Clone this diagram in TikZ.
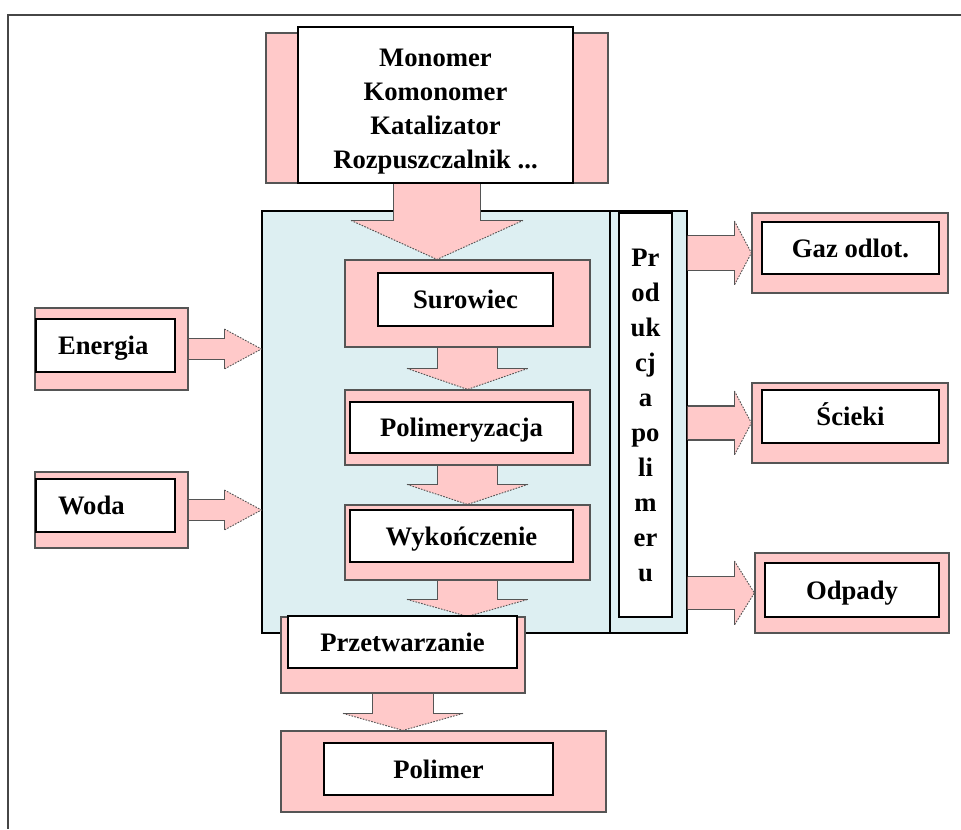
\documentclass[tikz,border=0pt]{standalone}
\usepackage{fontspec}
\setmainfont{Liberation Serif}
\usetikzlibrary{calc}
\pgfdeclarelayer{back}
\pgfdeclarelayer{mid}
\pgfsetlayers{back,mid,main}

\definecolor{boxpink}{RGB}{255,201,201}
\definecolor{procblue}{RGB}{221,239,242}
\definecolor{edgegray}{RGB}{85,85,85}
\definecolor{framegray}{RGB}{70,70,70}

\tikzset{
  pinkbox/.style={draw=edgegray, line width=0.9pt, fill=boxpink, inner sep=0pt},
  whitebase/.style={draw=black, line width=1.1pt, fill=white, inner sep=0pt,
    font=\bfseries\fontsize{20}{25.5}\selectfont, align=center},
  whitebox/.style={whitebase, text height=13.5pt, text depth=0pt},
  procbox/.style={draw=black, line width=0.9pt, fill=procblue, inner sep=0pt},
  vertbox/.style={draw=black, line width=1.1pt, fill=white, inner sep=0pt,
    font=\bfseries\fontsize{20}{26.25}\selectfont, align=center},
  arrowfill/.style={fill=boxpink},
  arrowedge/.style={draw=edgegray, line width=0.8pt},
  headedge/.style={draw=edgegray, line width=0.7pt, dash pattern=on 1.2pt off 1pt},
  frameline/.style={draw=framegray, line width=1.5pt},
}

% rectangle node from pixel corners: style, name, x1, y1, x2, y2, text
\newcommand\rectnode[7]{%
  \node[#1, minimum width={(#5-#3)*0.75pt}, minimum height={(#6-#4)*0.75pt}]
    (#2) at ({(#3+#5)/2},{(#4+#6)/2}) {#7};}

% block arrow pointing down: from, tip, half shaft, half head, head length (px)
\newcommand\blockdown[5]{%
  \begin{pgfonlayer}{mid}
  \fill[arrowfill] let \p1=(#1), \p2=(#2) in
    (\x2-#3*0.75pt,\y1) -- (\x2-#3*0.75pt,\y2+#5*0.75pt) -- (\x2-#4*0.75pt,\y2+#5*0.75pt)
    -- (\x2,\y2) -- (\x2+#4*0.75pt,\y2+#5*0.75pt) -- (\x2+#3*0.75pt,\y2+#5*0.75pt)
    -- (\x2+#3*0.75pt,\y1) -- cycle;
  \draw[arrowedge] let \p1=(#1), \p2=(#2) in
    (\x2-#3*0.75pt,\y1) -- (\x2-#3*0.75pt,\y2+#5*0.75pt) -- (\x2-#4*0.75pt,\y2+#5*0.75pt)
    (\x2+#3*0.75pt,\y1) -- (\x2+#3*0.75pt,\y2+#5*0.75pt) -- (\x2+#4*0.75pt,\y2+#5*0.75pt);
  \draw[headedge] let \p1=(#1), \p2=(#2) in
    (\x2-#4*0.75pt,\y2+#5*0.75pt) -- (\x2,\y2) -- (\x2+#4*0.75pt,\y2+#5*0.75pt);
  \end{pgfonlayer}}

% block arrow pointing right: from, tip, half shaft, half head, head length (px)
\newcommand\blockright[5]{%
  \begin{pgfonlayer}{mid}
  \fill[arrowfill] let \p1=(#1), \p2=(#2) in
    (\x1,\y2+#3*0.75pt) -- (\x2-#5*0.75pt,\y2+#3*0.75pt) -- (\x2-#5*0.75pt,\y2+#4*0.75pt)
    -- (\x2,\y2) -- (\x2-#5*0.75pt,\y2-#4*0.75pt) -- (\x2-#5*0.75pt,\y2-#3*0.75pt)
    -- (\x1,\y2-#3*0.75pt) -- cycle;
  \draw[arrowedge] let \p1=(#1), \p2=(#2) in
    (\x1,\y2+#3*0.75pt) -- (\x2-#5*0.75pt,\y2+#3*0.75pt) -- (\x2-#5*0.75pt,\y2+#4*0.75pt)
    (\x1,\y2-#3*0.75pt) -- (\x2-#5*0.75pt,\y2-#3*0.75pt) -- (\x2-#5*0.75pt,\y2-#4*0.75pt);
  \draw[headedge] let \p1=(#1), \p2=(#2) in
    (\x2-#5*0.75pt,\y2+#4*0.75pt) -- (\x2,\y2) -- (\x2-#5*0.75pt,\y2-#4*0.75pt);
  \end{pgfonlayer}}

\begin{document}
\begin{tikzpicture}[x=0.75pt, y=-0.75pt]
\useasboundingbox (0,0) rectangle (961,829);

% outer frame (top and left edges)
\coordinate (frTR) at (961,15);
\coordinate (frTL) at (8,15);
\coordinate (frBL) at (8,829);
\draw[frameline] (frTR) -- (frTL) -- (frBL);

% polymer production block
\begin{pgfonlayer}{back}
  \rectnode{procbox}{proc}{262}{211}{687}{633}{}
  \coordinate (divtop) at (610,211);
  \draw[draw=black, line width=0.9pt] (divtop) -- (divtop |- proc.south);
\end{pgfonlayer}
\rectnode{vertbox}{prod}{619}{213}{672}{617}{Pr\\od\\uk\\cj\\a\\po\\li\\m\\er\\u}

% raw materials
\rectnode{pinkbox}{srcP}{266}{33}{608}{183}{}
\rectnode{whitebase}{srcW}{298}{27}{573}{183}{\rule{0pt}{23pt}Monomer\\Komonomer\\Katalizator\\Rozpuszczalnik ...}

% process steps
\rectnode{pinkbox}{suP}{345}{260}{590}{347}{}
\rectnode{whitebox}{suW}{378}{273}{553}{326}{Surowiec}
\rectnode{pinkbox}{poP}{345}{390}{590}{465}{}
\rectnode{whitebox}{poW}{350}{402}{573}{453}{Polimeryzacja}
\rectnode{pinkbox}{wyP}{345}{505}{590}{580}{}
\rectnode{whitebox}{wyW}{350}{510}{573}{562}{Wykończenie}
\rectnode{pinkbox}{prP}{281}{617}{525}{693}{}
\rectnode{whitebox}{prW}{288}{616}{517}{668}{Przetwarzanie}
\rectnode{pinkbox}{pmP}{281}{731}{606}{812}{}
\rectnode{whitebox}{pmW}{324}{743}{553}{795}{Polimer}

% inputs
\rectnode{pinkbox}{enP}{35}{308}{188}{390}{}
\rectnode{whitebox, text width=71.25pt, align=left}{enW}{36}{319}{175}{372}{Energia}
\rectnode{pinkbox}{woP}{35}{472}{188}{548}{}
\rectnode{whitebox, text width=71.25pt, align=left}{woW}{36}{479}{175}{532}{Woda}

% outputs
\rectnode{pinkbox}{gaP}{752}{213}{948}{293}{}
\rectnode{whitebox}{gaW}{762}{222}{939}{274}{Gaz odlot.}
\rectnode{pinkbox}{scP}{752}{383}{948}{463}{}
\rectnode{whitebox}{scW}{762}{390}{939}{443}{Ścieki}
\rectnode{pinkbox}{odP}{755}{553}{949}{633}{}
\rectnode{whitebox}{odW}{765}{563}{939}{617}{Odpady}

% flow arrows
\blockdown{srcP.south}{srcP.south |- suP.north}{43.5}{86}{39}
\blockdown{suP.south}{suP.south |- poP.north}{30}{60.5}{21}
\blockdown{poP.south}{poP.south |- wyP.north}{30}{60.5}{20}
\blockdown{wyP.south}{wyP.south |- prP.north}{30}{60.5}{17}
\blockdown{prP.south}{prP.south |- pmP.north}{30.5}{60}{17}

\blockright{enP.east}{proc.west |- enP.east}{10.5}{20}{37}
\blockright{woP.east}{proc.west |- woP.east}{10.5}{20}{37}

\blockright{proc.east |- gaP.west}{gaP.west}{17.5}{32}{17}
\blockright{proc.east |- scP.west}{scP.west}{17}{32}{17}
\blockright{proc.east |- odP.west}{odP.west}{16.5}{32}{20}
\end{tikzpicture}
\end{document}
